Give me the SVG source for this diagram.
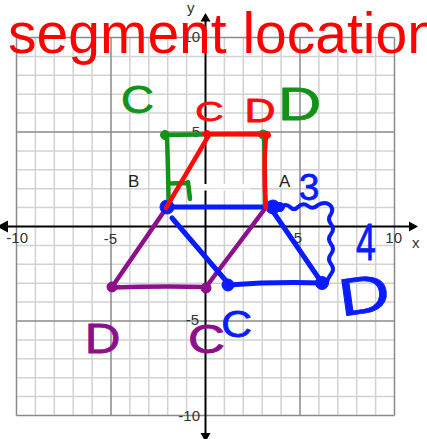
<svg xmlns="http://www.w3.org/2000/svg" width="427" height="439" viewBox="0 0 427 439">
<style>
.minor{stroke:#d2d2d2;stroke-width:1.5;fill:none}
.major{stroke:#8a8a8a;stroke-width:1.5;fill:none}
.axis{stroke:#000;stroke-width:2;fill:none}
.lbl{font-family:"Liberation Sans",Arial,sans-serif;font-size:15px;fill:#333}
.pt{font-family:"Liberation Sans",Arial,sans-serif;font-size:17px;fill:#222}
.ink{fill:none;stroke-linecap:round;stroke-linejoin:round}
.hand{font-family:"Liberation Sans",Arial,sans-serif;text-anchor:middle;stroke-width:0.8;stroke-linejoin:round}
.g{stroke:#13921a;fill:#13921a}
.r{stroke:#ff0a0a;fill:#ff0a0a}
.b{stroke:#0a1cff;fill:#0a1cff}
.p{stroke:#8c0f8c;fill:#8c0f8c}
.title{font-family:"Liberation Sans",Arial,sans-serif;font-size:57px;fill:#ff0000}
</style>
<rect width="427" height="439" fill="#fff"/>
<g id="grid">
<path class="minor" d="M35.4,37.5V415.5M54.3,37.5V415.5M73.2,37.5V415.5M92.1,37.5V415.5M129.9,37.5V415.5M148.8,37.5V415.5M167.7,37.5V415.5M186.6,37.5V415.5M224.4,37.5V415.5M243.3,37.5V415.5M262.2,37.5V415.5M281.1,37.5V415.5M318.9,37.5V415.5M337.8,37.5V415.5M356.7,37.5V415.5M375.6,37.5V415.5"/>
<path class="minor" d="M16.5,56.4H394.5M16.5,75.3H394.5M16.5,94.2H394.5M16.5,113.1H394.5M16.5,150.9H394.5M16.5,169.8H394.5M16.5,188.7H394.5M16.5,207.6H394.5M16.5,245.4H394.5M16.5,264.3H394.5M16.5,283.2H394.5M16.5,302.1H394.5M16.5,339.9H394.5M16.5,358.8H394.5M16.5,377.7H394.5M16.5,396.6H394.5"/>
<path class="major" d="M16.5,37.5V415.5M111,37.5V415.5M300,37.5V415.5M394.5,37.5V415.5M16.5,37.5H394.5M16.5,132H394.5M16.5,321H394.5M16.5,415.5H394.5"/>
</g>
<g id="axes">
<path class="axis" d="M0,226.5H411M205.5,19V435"/>
<path d="M418,226.5L409,221.5L409,231.5Z" fill="#000"/>
<path d="M-3,226.5L8,220.5L8,232.5Z" fill="#000"/>
<path d="M205.5,13L200.5,21.5L210.5,21.5Z" fill="#000"/>
<path d="M205.5,442L200.5,433L210.5,433Z" fill="#000"/>
<rect x="192" y="184" width="58" height="6.5" fill="#fff"/>
<path d="M192,188.7H250" stroke="#e2e2e2" stroke-width="1.2"/>
</g>
<g id="axis-labels">
<text class="lbl" x="28" y="243" text-anchor="end">-10</text>
<text class="lbl" x="117" y="244" text-anchor="end">-5</text>
<text class="lbl" x="302" y="243" text-anchor="end">5</text>
<text class="lbl" x="402" y="243" text-anchor="end">10</text>
<text class="lbl" x="412" y="248">x</text>
<text class="lbl" x="187" y="13">y</text>
<text class="lbl" x="200" y="42" text-anchor="end">10</text>
<text class="lbl" x="200" y="137" text-anchor="end">5</text>
<text class="lbl" x="199" y="325" text-anchor="end">-5</text>
<text class="lbl" x="200" y="421" text-anchor="end">-10</text>
</g>
<g id="point-labels">
<text class="pt" x="128" y="187">B</text>
<text class="pt" x="279" y="187">A</text>
</g>
<g id="purple-shape">
<path class="ink p" stroke-width="4.5" style="fill:none" d="M165,210L112,287M112,287.5Q160,286 206,287M206,287L264,210"/>
<circle class="p" cx="112" cy="287" r="5"/>
<circle class="p" cx="206" cy="288" r="5"/>
</g>
<g id="blue-shape">
<path class="ink b" stroke-width="5" style="fill:none" d="M167,207L273,207M272,210L322,283M228,285Q275,281.5 322,283M172,218L227,282"/>
<path class="ink b" stroke-width="4" style="fill:none" d="M280,209q5,-7 10,-2q4,4 8,0q5,-5 10,-1q5,4 10,-1q7,-4 12,0q4,4 1,9q-4,5 0,10q4,5 0,10q-4,5 0,10q4,5 0,10q-4,5 0,10q4,5 0,10q-3,4 -4,8"/>
<circle class="b" cx="167" cy="207" r="7"/>
<circle class="b" cx="273" cy="207" r="7"/>
<circle class="b" cx="280" cy="207" r="4.5"/>
<circle class="b" cx="322" cy="283" r="6.5"/>
<circle class="b" cx="228" cy="285" r="6"/>
</g>
<g id="green-shape">
<path class="ink g" stroke-width="4.5" style="fill:none" d="M165,135L263,133.5M167,135L168,170L168.5,199M168,183.5L188,183M188,182L190,199M264,134L265,175L265,205"/>
<circle class="g" cx="165" cy="135" r="4.5"/>
<circle class="g" cx="263" cy="134.5" r="4.5"/>
</g>
<g id="red-shape">
<path class="ink r" stroke-width="4.5" style="fill:none" d="M166,208L209,135M204,134L268,134.5M266,135Q263,170 266,208"/>
<circle class="r" cx="207" cy="134" r="3.5"/>
<circle class="r" cx="267" cy="135" r="3.5"/>
</g>
<g id="hand-labels">
<text class="hand g" font-size="38" transform="translate(137.5,113) scale(1.2,1)">C</text>
<text class="hand r" font-size="28" transform="translate(209.5,121) scale(1.4,1)">C</text>
<text class="hand r" font-size="33" transform="translate(260,122) scale(1.3,1)">D</text>
<text class="hand g" font-size="46" transform="translate(299.5,120) scale(1.3,1)">D</text>
<text class="hand b" font-size="37" transform="translate(309,200)">3</text>
<text class="hand b" font-size="51" transform="translate(366,260) scale(0.7,1)">4</text>
<text class="hand b" font-size="53" transform="translate(366.5,313) rotate(-8) scale(1.35,1)">D</text>
<text class="hand p" font-size="43" transform="translate(102.5,353) scale(1.15,1)">D</text>
<text class="hand p" font-size="41" transform="translate(206.5,353) scale(1.25,1)">C</text>
<text class="hand b" font-size="37" transform="translate(236.5,337) scale(1.15,1)">C</text>
</g>
<text id="title" class="title" x="8" y="53">segment location</text>
</svg>
